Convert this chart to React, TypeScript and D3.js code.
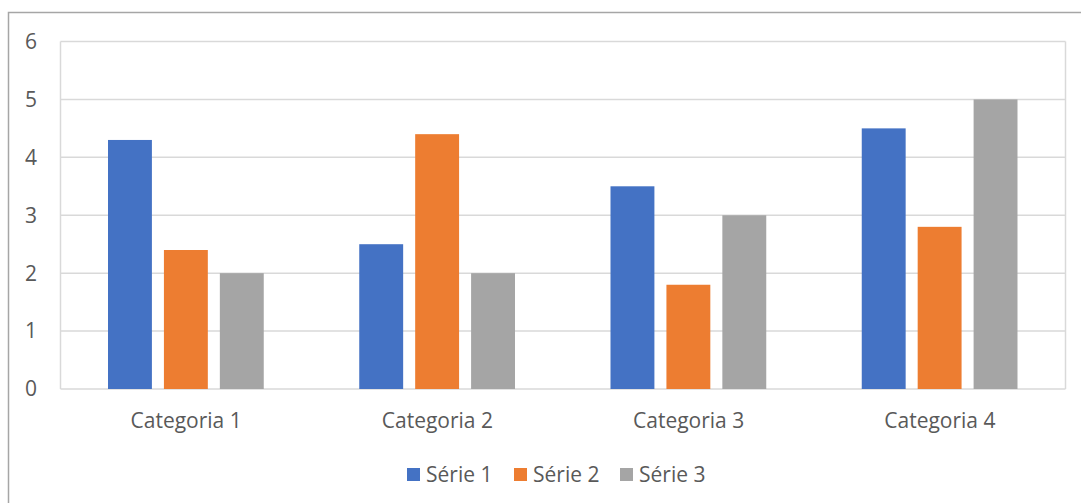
import React from "react";
import * as d3 from "d3";

const categories = ["Categoria 1", "Categoria 2", "Categoria 3", "Categoria 4"];
const seriesNames = ["Série 1", "Série 2", "Série 3"];
const serie1 = [4.3, 2.5, 3.5, 4.5];
const serie2 = [2.4, 4.4, 1.8, 2.8];
const serie3 = [2, 2, 3, 5];
const yTicks = [0, 1, 2, 3, 4, 5, 6];
const colors = ["#4472c4", "#ed7d31", "#a5a5a5"];

const W = 1081;
const H = 503;
const margin = { left: 60.5, right: 15.5, top: 41.5, bottom: 114 };
const font = "'Open Sans', sans-serif";
const fs = 21;

export default function App() {
  const values = [serie1, serie2, serie3];
  const plotW = W - margin.left - margin.right;
  const plotH = H - margin.top - margin.bottom;

  const x = d3.scaleBand().domain(categories).range([0, plotW]).paddingInner(0).paddingOuter(0);
  const x1 = d3
    .scaleBand()
    .domain(seriesNames)
    .range([47.5, x.bandwidth() - 48])
    .paddingInner(0.215);
  const y = d3.scaleLinear().domain([0, 6]).range([plotH, 0]);

  // legend layout
  const legendX = [407, 514, 620];

  return (
    <svg width={W} height={H} style={{ position: "absolute", left: 0, top: 0 }}>
      <rect x={0} y={0} width={W} height={H} fill="#fff" />
      <rect x={8.5} y={12.5} width={W + 10} height={H + 10} fill="none" stroke="#a6a6a6" strokeWidth={1.5} />
      <g transform={`translate(${margin.left},${margin.top})`}>
        {yTicks.map((t) => (
          <line key={t} x1={0} x2={plotW} y1={y(t)} y2={y(t)} stroke="#d9d9d9" strokeWidth={1.5} />
        ))}
        <line x1={0} x2={0} y1={0} y2={plotH} stroke="#d9d9d9" strokeWidth={1.5} />
        <line x1={plotW} x2={plotW} y1={0} y2={plotH} stroke="#d9d9d9" strokeWidth={1.5} />
        {categories.map((c, i) => (
          <g key={c} transform={`translate(${x(c)},0)`}>
            {seriesNames.map((s, j) => (
              <rect
                key={s}
                x={x1(s)}
                y={y(values[j][i])}
                width={x1.bandwidth()}
                height={plotH - y(values[j][i])}
                fill={colors[j]}
              />
            ))}
            <text
              x={x.bandwidth() / 2}
              y={plotH + 39}
              textAnchor="middle"
              fontFamily={font}
              fontSize={fs}
              fill="#595959"
            >
              {c}
            </text>
          </g>
        ))}
        {yTicks.map((t) => (
          <text
            key={t}
            x={-23.5}
            y={y(t)}
            dy="0.35em"
            textAnchor="end"
            fontFamily={font}
            fontSize={fs}
            fill="#595959"
          >
            {t}
          </text>
        ))}
      </g>
      {seriesNames.map((s, j) => (
        <g key={s} transform={`translate(${legendX[j]},468)`}>
          <rect x={0} y={0} width={13} height={13} fill={colors[j]} />
          <text x={19} y={6.5} dy="0.35em" fontFamily={font} fontSize={fs} fill="#595959">
            {s}
          </text>
        </g>
      ))}
    </svg>
  );
}
